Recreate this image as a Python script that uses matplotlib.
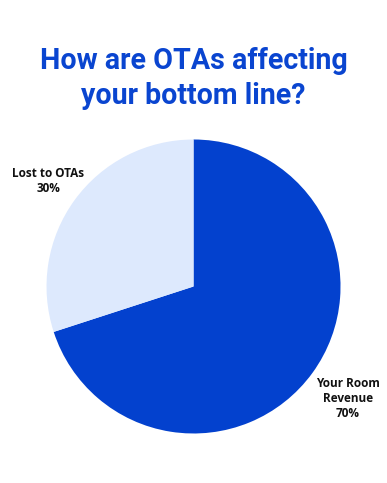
import numpy as np
import matplotlib
matplotlib.use("Agg")
import matplotlib.pyplot as plt

# --- data ---
labels = ["Your Room\nRevenue", "Lost to OTAs"]
shares = [70, 30]
colors = ["#0341CE", "#DDE9FD"]
title = "How are OTAs affecting\nyour bottom line?"

fig = plt.figure(figsize=(3.87, 4.83), dpi=100)
fig.patch.set_facecolor("white")

# title, two centred lines
fig.text(0.5, 0.838, title, ha="center", va="center", fontsize=20.6,
         fontweight="bold", color="#0A45D0", family="Roboto", linespacing=1.34)

# pie axes placed by pixel geometry of the reference
ax = fig.add_axes([0.1202, 0.1025, 0.7597, 0.6087])
wedges, _ = ax.pie(shares, colors=colors, startangle=90, counterclock=False,
                   wedgeprops={"linewidth": 0})
ax.set_xlim(-1, 1)
ax.set_ylim(-1, 1)
ax.set_aspect("equal")
ax.axis("off")

# labels just outside each wedge
label_dist = [1.30, 1.22]
for w, lab, s, d in zip(wedges, labels, shares, label_dist):
    ang = np.deg2rad((w.theta1 + w.theta2) / 2)
    ax.text(d * np.cos(ang), d * np.sin(ang), f"{lab}\n{s}%", ha="center", va="center",
            fontsize=8.5, fontweight="bold", family="Open Sans", color="#111111",
            linespacing=1.2, clip_on=False)

fig.savefig("out.png", dpi=100)
